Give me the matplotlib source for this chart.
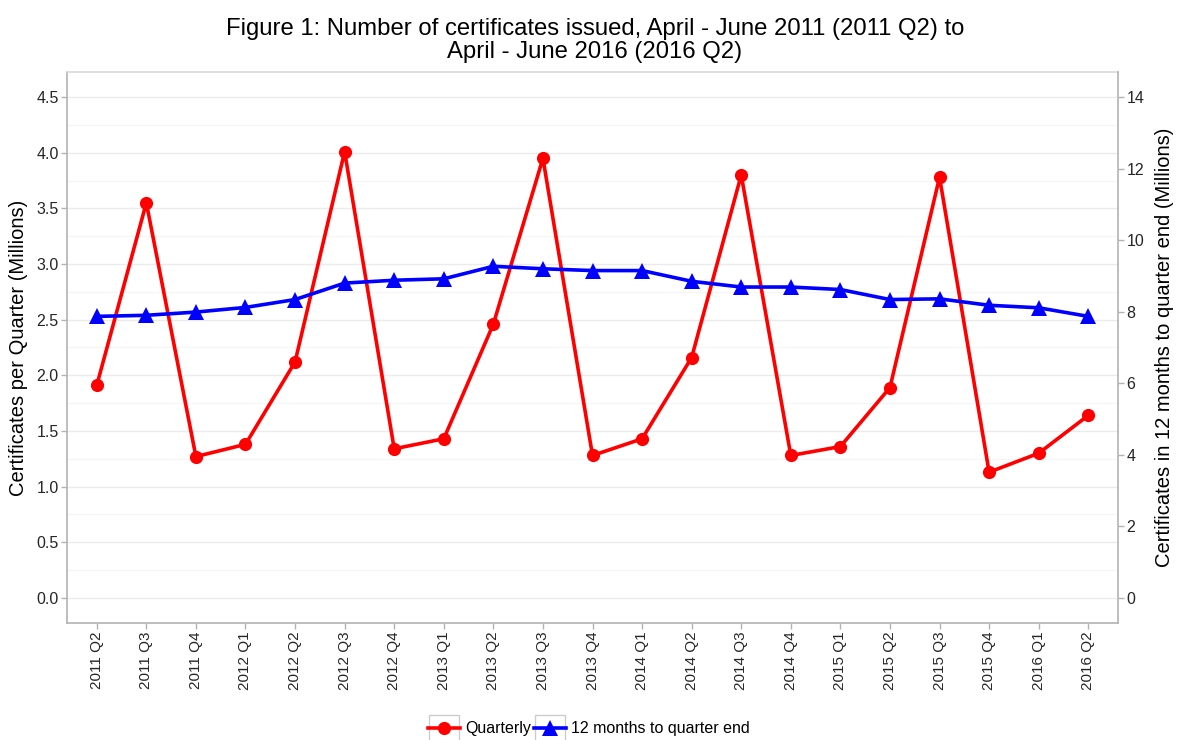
import matplotlib
matplotlib.use("Agg")
import matplotlib.pyplot as plt
from matplotlib.patches import Rectangle
import numpy as np

plt.rcParams['font.family'] = ['Liberation Sans', 'DejaVu Sans']

quarters = ["2011 Q2", "2011 Q3", "2011 Q4", "2012 Q1", "2012 Q2", "2012 Q3", "2012 Q4",
            "2013 Q1", "2013 Q2", "2013 Q3", "2013 Q4", "2014 Q1", "2014 Q2", "2014 Q3",
            "2014 Q4", "2015 Q1", "2015 Q2", "2015 Q3", "2015 Q4", "2016 Q1", "2016 Q2"]

# Certificates issued per quarter (millions)
quarterly = [1.91, 3.55, 1.27, 1.38, 2.12, 4.01, 1.34, 1.43, 2.46, 3.95, 1.28, 1.43,
             2.16, 3.80, 1.28, 1.36, 1.89, 3.78, 1.13, 1.30, 1.64]

# Certificates in the 12 months to quarter end (millions)
rolling_12m = [7.87, 7.90, 7.99, 8.12, 8.34, 8.80, 8.88, 8.92, 9.27, 9.20, 9.15, 9.15,
               8.85, 8.69, 8.69, 8.62, 8.34, 8.36, 8.18, 8.11, 7.87]

left_ticks = [0.0, 0.5, 1.0, 1.5, 2.0, 2.5, 3.0, 3.5, 4.0, 4.5]
right_ticks = [0, 2, 4, 6, 8, 10, 12, 14]

W, H = 1178, 740
fig = plt.figure(figsize=(W / 100, H / 100), dpi=100)
ax = fig.add_axes([67 / W, 1 - 623 / H, (1118 - 67) / W, (623 - 72) / H])
ax2 = ax.twinx()

x = np.arange(len(quarters))
ylo, yhi = -0.225, 4.725
scale = 14 / 4.5
ax.set_xlim(-0.6, len(quarters) - 0.4)
ax.set_ylim(ylo, yhi)
ax2.set_ylim(ylo * scale, yhi * scale)

axis_col = '#b3b3b3'
text_col = '#262626'

# horizontal grid on the left (quarterly) scale
ax.set_yticks(left_ticks)
ax.set_yticks(np.arange(0.25, 4.75, 0.5), minor=True)
ax.grid(True, which='major', axis='y', color='#ebebeb', lw=1.0)
ax.grid(True, which='minor', axis='y', color='#f5f5f5', lw=0.8)
ax.set_axisbelow(True)
ax.tick_params(axis='y', which='minor', length=0)

l1, = ax.plot(x, quarterly, color='#ff0000', lw=2.6, marker='o', ms=9.5,
              markeredgewidth=0, solid_joinstyle='round', zorder=3)
l2, = ax2.plot(x, rolling_12m, color='#0000ff', lw=2.6, marker='^', ms=11,
               markeredgewidth=0, solid_joinstyle='round', zorder=3)

ax.set_xticks(x)
ax.set_xticklabels(quarters, rotation=90, fontsize=11, color=text_col)
ax.set_yticklabels([f"{v:.1f}" for v in left_ticks], fontsize=11.5, color=text_col)
ax2.set_yticks(right_ticks)
ax2.set_yticklabels([str(v) for v in right_ticks], fontsize=11.5, color=text_col)

for a in (ax, ax2):
    for s in ('left', 'right', 'bottom', 'top'):
        a.spines[s].set_color(axis_col)
        a.spines[s].set_linewidth(1.2)
    a.tick_params(which='major', color=axis_col, length=4, width=1, pad=2)
ax.spines['right'].set_visible(False)
ax2.spines['left'].set_visible(False)
ax2.spines['bottom'].set_visible(False)
ax2.spines['top'].set_visible(False)
ax.spines['top'].set_color('#d9d9d9')

ax.set_ylabel("Certificates per Quarter (Millions)", fontsize=14.5, labelpad=6)
ax2.set_ylabel("Certificates in 12 months to quarter end (Millions)", fontsize=14.5,
               rotation=90, labelpad=8)

fig.suptitle("Figure 1: Number of certificates issued, April - June 2011 (2011 Q2) to\n"
             "April - June 2016 (2016 Q2)", fontsize=17.2, y=0.976, x=0.505,
             linespacing=1.1)

leg = fig.legend([l1, l2], ["Quarterly", "12 months to quarter end"], ncol=2,
                 loc='center', bbox_to_anchor=(0.5, 1 - 729 / H), frameon=False,
                 fontsize=11.5, handlelength=2.0, handletextpad=0.3,
                 columnspacing=0.2, borderaxespad=0)

# boxes around the legend keys
fig.canvas.draw()
r = fig.canvas.get_renderer()
for h in leg.legend_handles:
    bb = h.get_window_extent(r)
    cx, cy = (bb.x0 + bb.x1) / 2, (bb.y0 + bb.y1) / 2
    w, hh = 30, 26
    fig.patches.append(Rectangle(((cx - w / 2) / W, (cy - hh / 2) / H), w / W, hh / H,
                                 transform=fig.transFigure, fill=False,
                                 edgecolor='#cccccc', lw=1.0))

fig.savefig("out.png", dpi=100, facecolor='white')
